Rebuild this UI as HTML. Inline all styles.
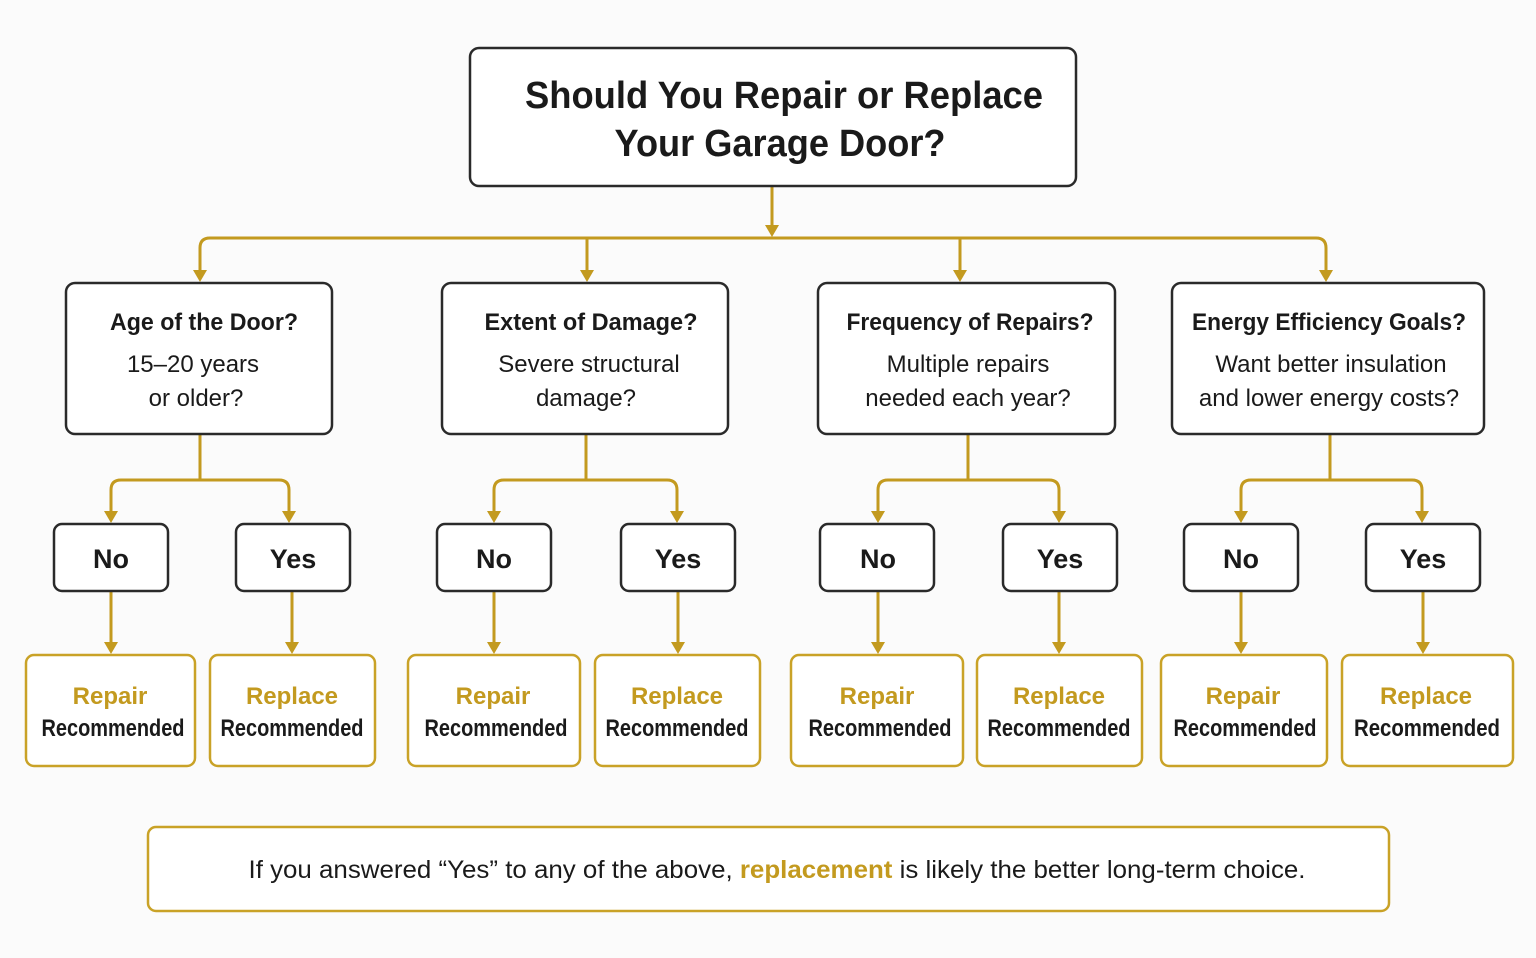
<!DOCTYPE html>
<html><head><meta charset="utf-8"><style>
html,body{margin:0;padding:0;background:#fbfbfb;}
svg{display:block;}
text{font-family:"Liberation Sans",sans-serif;fill:#1a1a1a;}
.b{font-weight:bold;}
.g{fill:#c39a1f;}
</style></head><body>
<svg width="1536" height="958" viewBox="0 0 1536 958" xmlns="http://www.w3.org/2000/svg">
<defs><path id="ah" d="M-7,-12 L7,-12 L0,0 Z" fill="#c39a1f"/></defs>
<g fill="none" stroke="#c39a1f" stroke-width="3" stroke-linejoin="round">
<path d="M772,186 V226"/>
<path d="M200,272 V248 Q200,238 210,238 H1316 Q1326,238 1326,248 V272"/>
<path d="M587,238 V272"/>
<path d="M960,238 V272"/>
<path d="M200,434 V480"/><path d="M111,512 V490 Q111,480 121,480 H279 Q289,480 289,490 V512"/>
<path d="M586,434 V480"/><path d="M494,512 V490 Q494,480 504,480 H667 Q677,480 677,490 V512"/>
<path d="M968,434 V480"/><path d="M878,512 V490 Q878,480 888,480 H1049 Q1059,480 1059,490 V512"/>
<path d="M1330,434 V480"/><path d="M1241,512 V490 Q1241,480 1251,480 H1412 Q1422,480 1422,490 V512"/>
<path d="M111,591 V643"/><path d="M292,591 V643"/>
<path d="M494,591 V643"/><path d="M678,591 V643"/>
<path d="M878,591 V643"/><path d="M1059,591 V643"/>
<path d="M1241,591 V643"/><path d="M1423,591 V643"/>
</g>
<use href="#ah" x="772" y="237"/>
<use href="#ah" x="200" y="282"/><use href="#ah" x="587" y="282"/><use href="#ah" x="960" y="282"/><use href="#ah" x="1326" y="282"/>
<use href="#ah" x="111" y="523"/><use href="#ah" x="289" y="523"/>
<use href="#ah" x="494" y="523"/><use href="#ah" x="677" y="523"/>
<use href="#ah" x="878" y="523"/><use href="#ah" x="1059" y="523"/>
<use href="#ah" x="1241" y="523"/><use href="#ah" x="1422" y="523"/>
<use href="#ah" x="111" y="654"/><use href="#ah" x="292" y="654"/>
<use href="#ah" x="494" y="654"/><use href="#ah" x="678" y="654"/>
<use href="#ah" x="878" y="654"/><use href="#ah" x="1059" y="654"/>
<use href="#ah" x="1241" y="654"/><use href="#ah" x="1423" y="654"/>
<g fill="#fff" stroke="#2a2a2a" stroke-width="2.5">
<rect x="470" y="48" width="606" height="138" rx="9"/>
<rect x="66" y="283" width="266" height="151" rx="9"/>
<rect x="442" y="283" width="286" height="151" rx="9"/>
<rect x="818" y="283" width="297" height="151" rx="9"/>
<rect x="1172" y="283" width="312" height="151" rx="9"/>
<rect x="54" y="524" width="114" height="67" rx="8"/><rect x="236" y="524" width="114" height="67" rx="8"/>
<rect x="437" y="524" width="114" height="67" rx="8"/><rect x="621" y="524" width="114" height="67" rx="8"/>
<rect x="820" y="524" width="114" height="67" rx="8"/><rect x="1003" y="524" width="114" height="67" rx="8"/>
<rect x="1184" y="524" width="114" height="67" rx="8"/><rect x="1366" y="524" width="114" height="67" rx="8"/>
</g>
<g fill="#fff" stroke="#c9a227" stroke-width="2.5">
<rect x="26" y="655" width="169" height="111" rx="8"/><rect x="210" y="655" width="165" height="111" rx="8"/>
<rect x="408" y="655" width="172" height="111" rx="8"/><rect x="595" y="655" width="165" height="111" rx="8"/>
<rect x="791" y="655" width="172" height="111" rx="8"/><rect x="977" y="655" width="165" height="111" rx="8"/>
<rect x="1161" y="655" width="166" height="111" rx="8"/><rect x="1342" y="655" width="171" height="111" rx="8"/>
<rect x="148" y="827" width="1241" height="84" rx="8"/>
</g>
<g text-anchor="middle">
<text class="b" x="784" y="108" font-size="38" textLength="518" lengthAdjust="spacingAndGlyphs">Should You Repair or Replace</text>
<text class="b" x="780" y="156" font-size="38" textLength="331" lengthAdjust="spacingAndGlyphs">Your Garage Door?</text>

<text class="b" x="204" y="330" font-size="24" textLength="188" lengthAdjust="spacingAndGlyphs">Age of the Door?</text>
<text x="193" y="372" font-size="24">15–20 years</text><text x="196" y="406" font-size="24">or older?</text>
<text class="b" x="591" y="330" font-size="24" textLength="213" lengthAdjust="spacingAndGlyphs">Extent of Damage?</text>
<text x="589" y="372" font-size="24">Severe structural</text><text x="586" y="406" font-size="24">damage?</text>
<text class="b" x="970" y="330" font-size="24" textLength="247" lengthAdjust="spacingAndGlyphs">Frequency of Repairs?</text>
<text x="968" y="372" font-size="24">Multiple repairs</text><text x="968" y="406" font-size="24">needed each year?</text>
<text class="b" x="1329" y="330" font-size="24" textLength="274" lengthAdjust="spacingAndGlyphs">Energy Efficiency Goals?</text>
<text x="1331" y="372" font-size="24">Want better insulation</text><text x="1329" y="406" font-size="24">and lower energy costs?</text>

<g class="b" font-size="27">
<text class="b" x="111" y="568">No</text><text class="b" x="293" y="568">Yes</text>
<text class="b" x="494" y="568">No</text><text class="b" x="678" y="568">Yes</text>
<text class="b" x="878" y="568">No</text><text class="b" x="1060" y="568">Yes</text>
<text class="b" x="1241" y="568">No</text><text class="b" x="1423" y="568">Yes</text>
</g>
<g font-size="24">
<text class="b g" x="110" y="704">Repair</text><text class="b" x="113" y="736" textLength="143" lengthAdjust="spacingAndGlyphs">Recommended</text>
<text class="b g" x="292" y="704">Replace</text><text class="b" x="292" y="736" textLength="143" lengthAdjust="spacingAndGlyphs">Recommended</text>
<text class="b g" x="493" y="704">Repair</text><text class="b" x="496" y="736" textLength="143" lengthAdjust="spacingAndGlyphs">Recommended</text>
<text class="b g" x="677" y="704">Replace</text><text class="b" x="677" y="736" textLength="143" lengthAdjust="spacingAndGlyphs">Recommended</text>
<text class="b g" x="877" y="704">Repair</text><text class="b" x="880" y="736" textLength="143" lengthAdjust="spacingAndGlyphs">Recommended</text>
<text class="b g" x="1059" y="704">Replace</text><text class="b" x="1059" y="736" textLength="143" lengthAdjust="spacingAndGlyphs">Recommended</text>
<text class="b g" x="1243" y="704">Repair</text><text class="b" x="1245" y="736" textLength="143" lengthAdjust="spacingAndGlyphs">Recommended</text>
<text class="b g" x="1426" y="704">Replace</text><text class="b" x="1427" y="736" textLength="146" lengthAdjust="spacingAndGlyphs">Recommended</text>
</g>
<text x="777" y="878" font-size="25" textLength="1057" lengthAdjust="spacingAndGlyphs">If you answered “Yes” to any of the above, <tspan class="b g">replacement</tspan> is likely the better long-term choice.</text>
</g>
</svg>
</body></html>
